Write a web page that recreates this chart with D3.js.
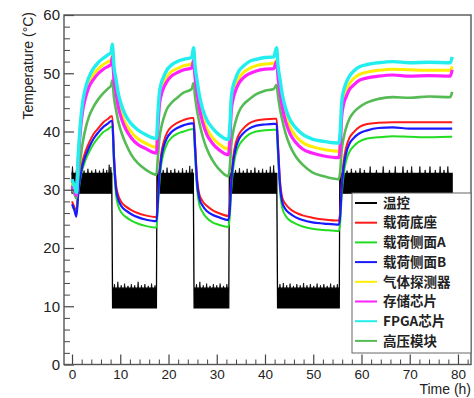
<!DOCTYPE html>
<html><head><meta charset="utf-8">
<script src="https://cdn.jsdelivr.net/npm/d3@7"></script>
<style>body{margin:0;background:#fff}svg{display:block}</style>
</head><body>
<svg id="c" width="474" height="398"></svg>
<script>
// ---- time grid (h) shared by the sensor series ----
const times = [
 0, 0.5, 0.9, 1.3, 1.7, 2.2, 2.8, 3.5, 4.5, 5.5, 6.5, 7.5, 8.1, 8.35,
 8.7, 9.1, 9.6, 10.3, 11.2, 12.3, 13.6, 15.2, 17.5,
 17.8, 18.1, 18.5, 19, 19.7, 20.6, 21.8, 23.2, 24.8, 25.2,
 25.5, 25.9, 26.4, 27.1, 28, 29.1, 30.4, 32.4,
 32.7, 33, 33.4, 33.9, 34.6, 35.5, 36.7, 38.2, 40, 41.8, 42.4,
 42.7, 43.1, 43.6, 44.3, 45.2, 46.3, 47.8, 49.8, 52.2, 55.3,
 55.6, 55.9, 56.3, 56.8, 57.5, 58.4, 59.6, 61.2, 63.5, 66.5, 70, 74, 78.4, 78.8
];
const tempBase = [
 28.0, 27.0, 26.2, 30.3, 33.0, 35.0, 36.6, 38.0, 39.6, 40.6, 41.6, 42.2, 42.6, 42.6,
 36.0, 31.0, 29.0, 27.8, 27.1, 26.5, 26.0, 25.6, 25.3,
 28.7, 33.0, 36.2, 38.2, 39.8, 40.8, 41.5, 42.0, 42.3, 42.3,
 38.1, 32.2, 29.2, 28.0, 27.2, 26.5, 26.0, 25.5,
 27.2, 31.8, 35.5, 37.9, 39.5, 40.5, 41.4, 41.9, 42.1, 42.2, 42.2,
 37.8, 31.7, 28.6, 27.5, 26.7, 26.1, 25.6, 25.2, 24.9, 24.7,
 26.4, 31.1, 34.8, 37.2, 38.9, 39.9, 40.8, 41.3, 41.5, 41.6, 41.6, 41.6, 41.6, 41.6
];
const tempSideA = [
 27.0, 26.6, 25.8, 29.3, 31.8, 33.6, 35.1, 36.4, 37.9, 39.0, 39.9, 40.4, 40.8, 40.8,
 34.3, 29.3, 27.2, 26.0, 25.3, 24.7, 24.2, 23.8, 23.5,
 26.9, 31.1, 34.3, 36.3, 37.9, 38.9, 39.6, 40.0, 40.4, 40.4,
 36.2, 30.3, 27.4, 26.1, 25.1, 24.4, 24.0, 23.6,
 25.3, 29.9, 33.6, 36.0, 37.6, 38.6, 39.5, 40.0, 40.2, 40.3, 40.3,
 35.9, 29.9, 26.8, 25.5, 24.7, 24.2, 23.7, 23.3, 23.1, 22.9,
 24.5, 29.1, 32.6, 34.9, 36.5, 37.5, 38.3, 38.8, 39.0, 39.2, 39.1, 39.0, 39.1, 39.1
];
const tempSideB = [
 27.5, 26.5, 25.4, 29.4, 32.2, 34.2, 35.8, 37.2, 38.8, 39.9, 40.8, 41.4, 41.8, 41.8,
 35.3, 30.3, 28.3, 27.1, 26.4, 25.8, 25.3, 24.9, 24.6,
 28.0, 32.2, 35.4, 37.4, 38.9, 39.9, 40.6, 41.1, 41.4, 41.4,
 37.3, 31.4, 28.5, 27.2, 26.3, 25.7, 25.3, 24.8,
 26.5, 31.1, 34.7, 37.0, 38.7, 39.7, 40.5, 41.0, 41.2, 41.3, 41.3,
 37.0, 30.9, 27.8, 26.6, 25.9, 25.3, 24.8, 24.4, 24.2, 24.0,
 25.7, 30.3, 33.9, 36.2, 37.9, 38.9, 39.7, 40.2, 40.6, 40.7, 40.5, 40.5, 40.5, 40.5
];
const tempGas = [
 31.2, 30.2, 29.3, 35.5, 40.3, 44.0, 46.5, 48.3, 49.8, 50.8, 51.5, 52.0, 52.3, 53.0,
 49.7, 47.6, 45.1, 43.0, 41.2, 39.9, 38.8, 38.0, 37.3,
 41.6, 45.2, 47.1, 48.2, 49.4, 50.3, 50.8, 51.3, 51.6, 52.2,
 50.1, 47.6, 44.8, 42.4, 40.4, 39.0, 37.9, 37.0,
 39.2, 44.4, 46.6, 47.9, 49.2, 50.1, 50.8, 51.3, 51.6, 51.7, 52.2,
 50.2, 47.8, 45.1, 42.6, 40.7, 39.3, 38.1, 37.4, 36.9, 36.6,
 38.7, 43.6, 45.7, 47.0, 48.2, 49.1, 49.8, 50.2, 50.5, 50.7, 50.6, 50.5, 50.5, 51.2
];
const tempStorage = [
 30.6, 29.8, 29.0, 35.0, 39.8, 43.5, 45.8, 47.6, 49.0, 50.0, 50.7, 51.2, 51.5, 52.8,
 48.9, 46.8, 44.2, 42.1, 40.3, 38.9, 37.8, 37.1, 36.3,
 40.7, 44.4, 46.3, 47.5, 48.6, 49.5, 50.1, 50.6, 50.9, 52.2,
 49.3, 46.8, 44.0, 41.5, 39.4, 38.0, 36.9, 36.0,
 38.2, 43.4, 45.6, 47.0, 48.3, 49.2, 49.9, 50.4, 50.7, 50.8, 52.0,
 49.3, 46.8, 44.1, 41.6, 39.6, 38.2, 37.0, 36.3, 35.8, 35.5,
 37.6, 42.6, 44.7, 45.9, 47.2, 48.0, 48.8, 49.2, 49.5, 49.7, 49.5, 49.6, 49.5, 50.6
];
const tempFPGA = [
 31.8, 30.6, 29.5, 36.0, 41.0, 45.0, 47.5, 49.3, 50.9, 51.9, 52.6, 53.2, 53.6, 55.0,
 51.1, 49.0, 46.5, 44.4, 42.6, 41.3, 40.3, 39.5, 38.8,
 43.0, 46.5, 48.3, 49.4, 50.6, 51.4, 52.0, 52.4, 52.7, 54.4,
 51.2, 48.9, 46.2, 43.8, 41.9, 40.6, 39.5, 38.6,
 40.7, 45.7, 47.8, 49.1, 50.4, 51.2, 52.0, 52.4, 52.7, 52.8, 54.4,
 51.3, 49.0, 46.3, 43.9, 42.0, 40.7, 39.5, 38.7, 38.3, 38.0,
 40.1, 45.0, 47.0, 48.3, 49.5, 50.4, 51.1, 51.5, 51.8, 52.0, 51.8, 51.9, 51.8, 52.8
];
const tempHV = [
 30.0, 29.3, 28.5, 32.0, 35.0, 38.0, 40.5, 42.5, 44.3, 45.6, 46.6, 47.4, 47.9, 48.8,
 45.8, 43.8, 41.7, 39.7, 37.8, 36.0, 34.6, 33.5, 32.6,
 35.6, 38.7, 40.7, 42.3, 43.9, 44.9, 45.8, 46.7, 47.3, 48.3,
 46.0, 43.7, 41.5, 39.1, 36.9, 35.1, 33.6, 32.3,
 33.8, 37.6, 39.9, 41.7, 43.4, 44.6, 45.5, 46.4, 47.0, 47.3, 48.0,
 46.1, 43.9, 41.9, 39.6, 37.5, 35.8, 34.3, 33.0, 32.3, 31.8,
 33.2, 36.8, 38.9, 40.6, 42.2, 43.3, 44.2, 45.0, 45.6, 45.9, 45.8, 46.0, 45.9, 46.8
];

// ---- temperature control (温控): noisy band per phase + spikes ----
const ctrlStart = [0, 8.4, 17.6, 25.3, 32.6, 42.6, 55.5];
const ctrlEnd   = [8.25, 17.5, 25.15, 32.5, 42.45, 55.4, 78.8];
const ctrlLow   = [29.4, 9.7, 29.4, 9.7, 29.4, 9.7, 29.4];
const ctrlHigh  = [32.8, 13.1, 32.8, 13.1, 32.8, 13.1, 32.8];
const spikeT = [
 0.1, 0.9, 1.7, 2.5, 3.3, 4.1, 4.9, 5.7, 6.5, 7.2, 7.7, 8.05,
 8.8, 9.5, 10.2, 10.9, 11.6, 12.3, 13.0, 13.7, 14.4, 15.1, 15.8, 16.5, 17.2,
 18.1, 18.9, 19.7, 20.5, 21.3, 22.1, 22.9, 23.7, 24.4, 24.9,
 25.8, 26.5, 27.2, 27.9, 28.6, 29.3, 30.0, 30.7, 31.4, 32.1,
 33.1, 33.9, 34.7, 35.5, 36.3, 37.1, 37.9, 38.7, 39.5, 40.3, 41.1, 41.8,
 43.1, 43.8, 44.5, 45.2, 45.9, 46.6, 47.3, 48.0, 48.7, 49.4, 50.1, 50.8, 51.5, 52.2, 52.9, 53.6, 54.3, 55.0,
 56.2, 57.0, 57.9, 58.8, 59.7, 60.6, 61.8, 63.1, 64.5, 65.8, 67.0, 68.6, 69.5, 70.4, 72.1, 73.2, 74.2, 75.3, 76.3, 77.1, 77.9
];
const spikeV = [
 34.0, 33.4, 33.6, 33.3, 33.6, 33.3, 33.5, 33.3, 33.6, 33.4, 34.3, 33.9,
 13.8, 14.2, 13.6, 13.9, 13.5, 13.8, 13.6, 14.2, 13.6, 13.8, 13.5, 13.9, 13.6,
 33.6, 33.4, 33.8, 33.4, 33.6, 33.3, 33.7, 33.4, 34.1, 33.6,
 13.8, 14.2, 13.6, 13.9, 13.5, 13.8, 13.6, 13.9, 13.5, 13.8,
 33.6, 33.4, 33.7, 33.3, 33.6, 33.4, 33.8, 33.4, 33.6, 33.4, 34.0, 34.2,
 13.8, 14.0, 13.6, 13.9, 13.5, 13.8, 13.6, 14.0, 13.6, 13.8, 13.5, 13.9, 13.6, 13.8, 13.5, 13.9, 13.6, 13.8,
 33.5, 33.3, 33.6, 33.3, 33.7, 33.4, 34.0, 33.4, 34.0, 33.4, 34.0, 34.0, 33.4, 34.0, 34.0, 33.4, 34.0, 33.4, 34.0, 33.4, 34.0
];

const legendLabels = ["温控", "载荷底座", "载荷侧面A", "载荷侧面B", "气体探测器", "存储芯片", "FPGA芯片", "高压模块"];
const legendColors = ["#000000", "#ff1a1a", "#22dd22", "#1a1aff", "#ffee00", "#ff22ff", "#22eeee", "#55bb55"];
const xTicks = [0, 10, 20, 30, 40, 50, 60, 70, 80];
const yTicks = [0, 10, 20, 30, 40, 50, 60];
const xMinor = d3.range(0, 83, 2);
const yMinor = d3.range(0, 61, 2);

// ---- drawing ----
const svg = d3.select("#c");
const L = 64, R = 471, T = 15, B = 364.5;
const x = d3.scaleLinear().domain([-1.66, 82.7]).range([L, R]);
const y = d3.scaleLinear().domain([0, 60]).range([B, T]);

svg.append("defs").append("clipPath").attr("id", "clip")
  .append("rect").attr("x", L).attr("y", T).attr("width", R - L).attr("height", B - T);
const plot = svg.append("g").attr("clip-path", "url(#clip)");

// control band
const bandPts = [];
ctrlStart.forEach((s, i) => {
  bandPts.push({t: s, lo: ctrlLow[i], hi: ctrlHigh[i]});
  bandPts.push({t: ctrlEnd[i], lo: ctrlLow[i], hi: ctrlHigh[i]});
});
plot.append("path").datum(bandPts)
  .attr("d", d3.area().x(d => x(d.t)).y0(d => y(d.lo)).y1(d => y(d.hi)))
  .attr("fill", "#000").attr("stroke", "#000").attr("stroke-width", 1.2);
const spikeLine = d3.line().x(d => x(d[0])).y(d => y(d[1]));
spikeT.forEach((t, i) => {
  const base = spikeV[i] > 20 ? ctrlHigh[0] : ctrlHigh[1];
  plot.append("path")
    .attr("d", spikeLine([[t - 0.13, base - 0.1], [t, spikeV[i]], [t + 0.13, base - 0.1]]))
    .attr("fill", "#000").attr("stroke", "#000").attr("stroke-width", 0.7);
});

// sensor series
const series = [
  {v: tempBase, c: legendColors[1], w: 2},
  {v: tempSideA, c: legendColors[2], w: 2},
  {v: tempSideB, c: legendColors[3], w: 2.2},
  {v: tempHV, c: legendColors[7], w: 2.6},
  {v: tempGas, c: legendColors[4], w: 3},
  {v: tempStorage, c: legendColors[5], w: 3.2},
  {v: tempFPGA, c: legendColors[6], w: 3.4}
];
const line = d3.line().x((d, i) => x(times[i])).y(d => y(d)).curve(d3.curveMonotoneX);
series.forEach(s => {
  plot.append("path").datum(s.v).attr("d", line)
    .attr("fill", "none").attr("stroke", s.c).attr("stroke-width", s.w)
    .attr("stroke-linejoin", "round");
});

// axes
const fontAxis = "'Liberation Sans', Arial, sans-serif";
const yAx = svg.append("g").attr("transform", `translate(${L},0)`)
  .call(d3.axisLeft(y).tickValues(yTicks).tickSize(-10).tickPadding(4).tickFormat(d3.format("d")));
yAx.select(".domain").remove();
yAx.selectAll("line").attr("stroke", "#444").attr("stroke-width", 1.2);
yAx.selectAll("text").attr("font-family", fontAxis).attr("font-size", 15).attr("fill", "#222");
const yAxMin = svg.append("g").attr("transform", `translate(${L},0)`)
  .call(d3.axisLeft(y).tickValues(yMinor.filter(v => v % 10)).tickSize(-6).tickFormat(""));
yAxMin.select(".domain").remove();
yAxMin.selectAll("line").attr("stroke", "#444").attr("stroke-width", 1);

const xAx = svg.append("g").attr("transform", `translate(0,${B})`)
  .call(d3.axisBottom(x).tickValues(xTicks).tickSize(-10).tickPadding(5).tickFormat(d3.format("d")));
xAx.select(".domain").remove();
xAx.selectAll("line").attr("stroke", "#444").attr("stroke-width", 1.2);
xAx.selectAll("text").attr("font-family", fontAxis).attr("font-size", 13.5).attr("fill", "#222");
const xAxMin = svg.append("g").attr("transform", `translate(0,${B})`)
  .call(d3.axisBottom(x).tickValues(xMinor.filter(v => v % 10)).tickSize(-5).tickFormat(""));
xAxMin.select(".domain").remove();
xAxMin.selectAll("line").attr("stroke", "#444").attr("stroke-width", 1);

// frame
svg.append("rect").attr("x", L).attr("y", T).attr("width", R - L).attr("height", B - T)
  .attr("fill", "none").attr("stroke", "#555").attr("stroke-width", 1.4);

// axis titles
svg.append("text").attr("transform", "translate(33,12) rotate(-90)")
  .attr("text-anchor", "end").attr("font-family", fontAxis).attr("font-size", 14)
  .attr("fill", "#222").text("Temperature (°C)");
svg.append("text").attr("x", 471).attr("y", 394).attr("text-anchor", "end")
  .attr("font-family", fontAxis).attr("font-size", 14).attr("fill", "#222").text("Time (h)");

// legend
const lg = svg.append("g");
lg.append("rect").attr("x", 352).attr("y", 193).attr("width", 119).attr("height", 160)
  .attr("fill", "#fff").attr("stroke", "#666").attr("stroke-width", 1);
legendLabels.forEach((lab, i) => {
  const cy = 203 + i * 19.7;
  lg.append("line").attr("x1", 355).attr("x2", 377).attr("y1", cy).attr("y2", cy)
    .attr("stroke", legendColors[i]).attr("stroke-width", 2);
  lg.append("text").attr("x", 383).attr("y", cy).attr("dy", "0.35em")
    .attr("font-family", "'Noto Sans CJK SC', 'Liberation Sans', sans-serif")
    .attr("font-weight", 700).attr("font-size", 13.5).attr("fill", "#222").text(lab);
});
</script>
</body></html>
